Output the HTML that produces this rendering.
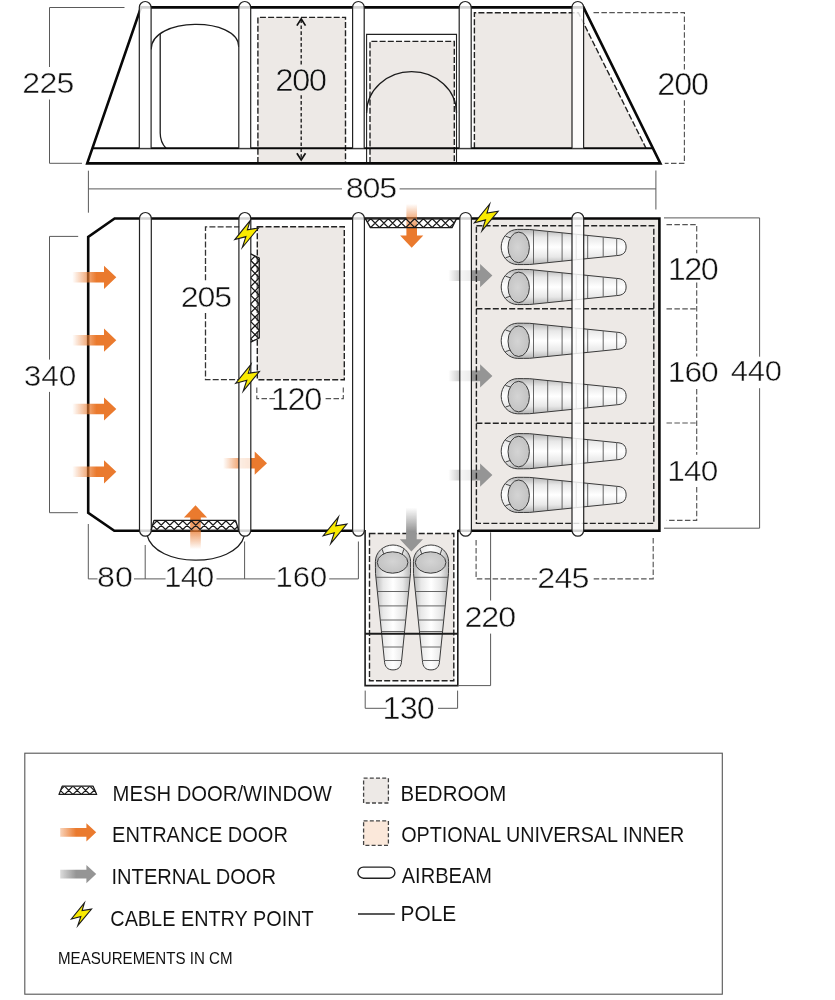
<!DOCTYPE html>
<html><head><meta charset="utf-8"><title>Tent floor plan</title>
<style>
html,body{margin:0;padding:0;background:#fff;}
body{width:835px;height:1000px;overflow:hidden;font-family:"Liberation Sans",sans-serif;}
svg{display:block;will-change:transform;}
</style></head><body>
<svg width="835" height="1000" viewBox="0 0 835 1000" font-family="Liberation Sans, sans-serif">

<defs>
 <linearGradient id="bagg" x1="0" y1="0" x2="0" y2="1">
  <stop offset="0" stop-color="#b4b4b4"/>
  <stop offset="0.22" stop-color="#e8e8e8"/>
  <stop offset="0.5" stop-color="#ffffff"/>
  <stop offset="0.78" stop-color="#e8e8e8"/>
  <stop offset="1" stop-color="#b4b4b4"/>
 </linearGradient>
 <radialGradient id="faceg" cx="0.45" cy="0.5" r="0.6">
  <stop offset="0" stop-color="#d4d4d4"/>
  <stop offset="1" stop-color="#c0c0c0"/>
 </radialGradient>
 <linearGradient id="og" gradientUnits="userSpaceOnUse" x1="-44" y1="0" x2="-20" y2="0">
  <stop offset="0" stop-color="#ea7a2e" stop-opacity="0"/>
  <stop offset="1" stop-color="#ea7a2e" stop-opacity="1"/>
 </linearGradient>
 <linearGradient id="gg" gradientUnits="userSpaceOnUse" x1="-44" y1="0" x2="-20" y2="0">
  <stop offset="0" stop-color="#959595" stop-opacity="0"/>
  <stop offset="1" stop-color="#959595" stop-opacity="1"/>
 </linearGradient>
 <pattern id="mesh" patternUnits="userSpaceOnUse" width="7" height="9">
  <path d="M0,0 L7,9 M7,0 L0,9" stroke="#222" stroke-width="0.9"/>
 </pattern>
</defs>

<rect x="257.9" y="17.4" width="87.6" height="145" fill="#ede9e6"/>
<path d="M257.9,163 L257.9,17.4 L345.5,17.4 L345.5,163" fill="none" stroke="#222" stroke-width="1.4" stroke-dasharray="6 2.2"/>
<path d="M366.6,163 L366.6,34.4 L456.5,34.4 L456.5,163" fill="#fff" stroke="#222" stroke-width="1.1"/>
<rect x="370" y="41.4" width="84.3" height="121.6" fill="#ede9e6"/>
<path d="M370,163 L370,41.4 L454.3,41.4 L454.3,163" fill="none" stroke="#222" stroke-width="1.4" stroke-dasharray="6 2.2"/>
<path d="M366.6,113 A44.95,41.3 0 0 1 456.5,113" fill="none" stroke="#1c1c1c" stroke-width="1.3"/>
<path d="M474.4,148.2 L474.4,12.8 L578.4,12.8 L646,148.2 Z" fill="#ede9e6" stroke="none"/>
<path d="M474.4,148.2 L474.4,12.8 L578.4,12.8 L646,148.2" fill="none" stroke="#222" stroke-width="1.4" stroke-dasharray="6 2.2"/>
<path d="M151.1,49.5 C151.1,16.5 238.8,16.5 238.8,47" fill="none" stroke="#1c1c1c" stroke-width="1.3"/>
<path d="M160.2,34 L160.2,133 Q160.2,142 166,148.3" fill="none" stroke="#1c1c1c" stroke-width="1.3"/>
<path d="M301.2,19.5 L301.2,64.6 M301.2,95.2 L301.2,159" fill="none" stroke="#222" stroke-width="1.4" stroke-dasharray="3.6 2.3"/>
<path d="M296.9,25.6 L301.2,18.8 L305.5,25.6 M296.9,153.2 L301.2,160 L305.5,153.2" fill="none" stroke="#111" stroke-width="1.7" stroke-linejoin="miter"/>
<path d="M87.2,163.4 L141,7.4 L583.5,7.4 L660.4,163.4 Z" fill="none" stroke="#080808" stroke-width="2.6" stroke-linejoin="miter"/>
<line x1="92.3" y1="148.3" x2="652.5" y2="148.3" stroke="#080808" stroke-width="2"/>
<path d="M139.3,148.3 L139.3,7.3999999999999915 A5.8999999999999915,5.8999999999999915 0 0 1 151.1,7.3999999999999915 L151.1,148.3" fill="#fff" fill-opacity="0.82" stroke="#222" stroke-width="1.2"/>
<path d="M238.8,148.3 L238.8,7.449999999999989 A5.949999999999989,5.949999999999989 0 0 1 250.7,7.449999999999989 L250.7,148.3" fill="#fff" fill-opacity="0.82" stroke="#222" stroke-width="1.2"/>
<path d="M352.6,148.3 L352.6,7.299999999999983 A5.799999999999983,5.799999999999983 0 0 1 364.2,7.299999999999983 L364.2,148.3" fill="#fff" fill-opacity="0.82" stroke="#222" stroke-width="1.2"/>
<path d="M459.2,148.3 L459.2,7.5 A6.0,6.0 0 0 1 471.2,7.5 L471.2,148.3" fill="#fff" fill-opacity="0.82" stroke="#222" stroke-width="1.2"/>
<path d="M572,148.3 L572,7.300000000000011 A5.800000000000011,5.800000000000011 0 0 1 583.6,7.300000000000011 L583.6,148.3" fill="#fff" fill-opacity="0.82" stroke="#222" stroke-width="1.2"/>
<path d="M124.5,7.5 L49.5,7.5 L49.5,67 M49.5,99.5 L49.5,163.3 L82,163.3" fill="none" stroke="#5a5a5a" stroke-width="1"/>
<path d="M593.5,12.6 L684.4,12.6 L684.4,70.5 M684.4,100.2 L684.4,163.4 L664.8,163.4" fill="none" stroke="#555" stroke-width="1.15" stroke-dasharray="5.5 2.4"/>
<path d="M88.4,170.7 L88.4,212.7 M88.4,188.9 L342,188.9 M399.6,188.9 L655.9,188.9 M655.9,170.5 L655.9,209.5" fill="none" stroke="#5a5a5a" stroke-width="1"/>
<text transform="translate(24.90,0) scale(1.06,1) translate(-24.90,0)" x="22.50" y="92.60" font-size="30.26" letter-spacing="-0.666" fill="#111" stroke="#fff" stroke-width="0.55" stroke-opacity="0.9">225</text>
<text transform="translate(277.10,0) scale(1.06,1) translate(-277.10,0)" x="275.30" y="90.80" font-size="31.14" letter-spacing="-1.473" fill="#111" stroke="#fff" stroke-width="0.55" stroke-opacity="0.9">200</text>
<text transform="translate(659.90,0) scale(1.06,1) translate(-659.90,0)" x="657.50" y="94.60" font-size="30.55" letter-spacing="-1.102" fill="#111" stroke="#fff" stroke-width="0.55" stroke-opacity="0.9">200</text>
<text transform="translate(347.70,0) scale(1.06,1) translate(-347.70,0)" x="345.90" y="198.50" font-size="30.41" letter-spacing="-1.134" fill="#111" stroke="#fff" stroke-width="0.55" stroke-opacity="0.9">805</text>
<rect x="471" y="219" width="188" height="311" fill="#ede9e6"/>
<path transform="translate(492.4,275.6) rotate(0)" d="M0,0 L-12.3,-11.6 L-12.3,-5.3 L-45,-5.3 L-45,5.3 L-12.3,5.3 L-12.3,11.6 Z" fill="url(#gg)"/>
<path transform="translate(492.4,375.9) rotate(0)" d="M0,0 L-12.3,-11.6 L-12.3,-5.3 L-45,-5.3 L-45,5.3 L-12.3,5.3 L-12.3,11.6 Z" fill="url(#gg)"/>
<path transform="translate(492.4,475.1) rotate(0)" d="M0,0 L-12.3,-11.6 L-12.3,-5.3 L-45,-5.3 L-45,5.3 L-12.3,5.3 L-12.3,11.6 Z" fill="url(#gg)"/>
<rect x="476.4" y="225.8" width="177.4" height="297.6" fill="none" stroke="#222" stroke-width="1.4" stroke-dasharray="6 2.2"/>
<path d="M476.4,308.8 L653.8,308.8 M476.4,423.2 L653.8,423.2" stroke="#222" stroke-width="1.4" stroke-dasharray="6 2.2"/>
<path d="M240,226.8 L205.5,226.8 L205.5,281.3 M205.5,313.1 L205.5,379.7 L240,379.7" fill="none" stroke="#333" stroke-width="1.3" stroke-dasharray="6 2.2"/>
<rect x="257.3" y="226.8" width="87" height="152.9" fill="#ede9e6" stroke="#222" stroke-width="1.4" stroke-dasharray="6 2.2"/>
<path d="M256.8,387.5 L256.8,398.6 L275.5,398.6 M325.6,398.6 L343.3,398.6 L343.3,387.5" fill="none" stroke="#555" stroke-width="1.15" stroke-dasharray="5.5 2.4"/>
<path d="M365.1,530 L365.1,685.6 L457.8,685.6 L457.8,530" fill="#fff" stroke="#1c1c1c" stroke-width="1.6"/>
<rect x="369.5" y="533.5" width="84.3" height="147.3" fill="#ede9e6" stroke="#222" stroke-width="1.4" stroke-dasharray="6 2.2"/>
<g transform="translate(501.7,247.0) rotate(0)"><path d="M16,-17.6 Q22,-17.6 28,-17.5 L115,-8.6 C121.5,-8.3 124.4,-5.5 124.4,0 C124.4,5.5 121.5,8.3 115,8.6 L28,17.5 Q22,17.6 16,17.6 A16.5,17.6 0 0 1 16,-17.6 Z" fill="url(#bagg)" stroke="#3a3a3a" stroke-width="1"/><line x1="31.8" y1="-16.91" x2="31.8" y2="16.91" stroke="#555" stroke-width="0.9"/><line x1="46" y1="-15.46" x2="46" y2="15.46" stroke="#555" stroke-width="0.9"/><line x1="60.4" y1="-13.99" x2="60.4" y2="13.99" stroke="#555" stroke-width="0.9"/><line x1="74.5" y1="-12.54" x2="74.5" y2="12.54" stroke="#555" stroke-width="0.9"/><line x1="86" y1="-11.37" x2="86" y2="11.37" stroke="#555" stroke-width="0.9"/><line x1="101.5" y1="-9.78" x2="101.5" y2="9.78" stroke="#555" stroke-width="0.9"/><line x1="115" y1="-8.40" x2="115" y2="8.40" stroke="#555" stroke-width="0.9"/><path d="M3.8,-10.8 L8.4,-9.3 M3.8,10.8 L8.4,9.3" stroke="#333" stroke-width="0.9"/><ellipse cx="17" cy="0.4" rx="10.7" ry="15.3" fill="url(#faceg)" stroke="#3a3a3a" stroke-width="1"/></g>
<g transform="translate(501.7,287.0) rotate(0)"><path d="M16,-17.6 Q22,-17.6 28,-17.5 L115,-8.6 C121.5,-8.3 124.4,-5.5 124.4,0 C124.4,5.5 121.5,8.3 115,8.6 L28,17.5 Q22,17.6 16,17.6 A16.5,17.6 0 0 1 16,-17.6 Z" fill="url(#bagg)" stroke="#3a3a3a" stroke-width="1"/><line x1="31.8" y1="-16.91" x2="31.8" y2="16.91" stroke="#555" stroke-width="0.9"/><line x1="46" y1="-15.46" x2="46" y2="15.46" stroke="#555" stroke-width="0.9"/><line x1="60.4" y1="-13.99" x2="60.4" y2="13.99" stroke="#555" stroke-width="0.9"/><line x1="74.5" y1="-12.54" x2="74.5" y2="12.54" stroke="#555" stroke-width="0.9"/><line x1="86" y1="-11.37" x2="86" y2="11.37" stroke="#555" stroke-width="0.9"/><line x1="101.5" y1="-9.78" x2="101.5" y2="9.78" stroke="#555" stroke-width="0.9"/><line x1="115" y1="-8.40" x2="115" y2="8.40" stroke="#555" stroke-width="0.9"/><path d="M3.8,-10.8 L8.4,-9.3 M3.8,10.8 L8.4,9.3" stroke="#333" stroke-width="0.9"/><ellipse cx="17" cy="0.4" rx="10.7" ry="15.3" fill="url(#faceg)" stroke="#3a3a3a" stroke-width="1"/></g>
<g transform="translate(501.7,340.8) rotate(0)"><path d="M16,-17.6 Q22,-17.6 28,-17.5 L115,-8.6 C121.5,-8.3 124.4,-5.5 124.4,0 C124.4,5.5 121.5,8.3 115,8.6 L28,17.5 Q22,17.6 16,17.6 A16.5,17.6 0 0 1 16,-17.6 Z" fill="url(#bagg)" stroke="#3a3a3a" stroke-width="1"/><line x1="31.8" y1="-16.91" x2="31.8" y2="16.91" stroke="#555" stroke-width="0.9"/><line x1="46" y1="-15.46" x2="46" y2="15.46" stroke="#555" stroke-width="0.9"/><line x1="60.4" y1="-13.99" x2="60.4" y2="13.99" stroke="#555" stroke-width="0.9"/><line x1="74.5" y1="-12.54" x2="74.5" y2="12.54" stroke="#555" stroke-width="0.9"/><line x1="86" y1="-11.37" x2="86" y2="11.37" stroke="#555" stroke-width="0.9"/><line x1="101.5" y1="-9.78" x2="101.5" y2="9.78" stroke="#555" stroke-width="0.9"/><line x1="115" y1="-8.40" x2="115" y2="8.40" stroke="#555" stroke-width="0.9"/><path d="M3.8,-10.8 L8.4,-9.3 M3.8,10.8 L8.4,9.3" stroke="#333" stroke-width="0.9"/><ellipse cx="17" cy="0.4" rx="10.7" ry="15.3" fill="url(#faceg)" stroke="#3a3a3a" stroke-width="1"/></g>
<g transform="translate(501.7,396.2) rotate(0)"><path d="M16,-17.6 Q22,-17.6 28,-17.5 L115,-8.6 C121.5,-8.3 124.4,-5.5 124.4,0 C124.4,5.5 121.5,8.3 115,8.6 L28,17.5 Q22,17.6 16,17.6 A16.5,17.6 0 0 1 16,-17.6 Z" fill="url(#bagg)" stroke="#3a3a3a" stroke-width="1"/><line x1="31.8" y1="-16.91" x2="31.8" y2="16.91" stroke="#555" stroke-width="0.9"/><line x1="46" y1="-15.46" x2="46" y2="15.46" stroke="#555" stroke-width="0.9"/><line x1="60.4" y1="-13.99" x2="60.4" y2="13.99" stroke="#555" stroke-width="0.9"/><line x1="74.5" y1="-12.54" x2="74.5" y2="12.54" stroke="#555" stroke-width="0.9"/><line x1="86" y1="-11.37" x2="86" y2="11.37" stroke="#555" stroke-width="0.9"/><line x1="101.5" y1="-9.78" x2="101.5" y2="9.78" stroke="#555" stroke-width="0.9"/><line x1="115" y1="-8.40" x2="115" y2="8.40" stroke="#555" stroke-width="0.9"/><path d="M3.8,-10.8 L8.4,-9.3 M3.8,10.8 L8.4,9.3" stroke="#333" stroke-width="0.9"/><ellipse cx="17" cy="0.4" rx="10.7" ry="15.3" fill="url(#faceg)" stroke="#3a3a3a" stroke-width="1"/></g>
<g transform="translate(501.7,451.2) rotate(0)"><path d="M16,-17.6 Q22,-17.6 28,-17.5 L115,-8.6 C121.5,-8.3 124.4,-5.5 124.4,0 C124.4,5.5 121.5,8.3 115,8.6 L28,17.5 Q22,17.6 16,17.6 A16.5,17.6 0 0 1 16,-17.6 Z" fill="url(#bagg)" stroke="#3a3a3a" stroke-width="1"/><line x1="31.8" y1="-16.91" x2="31.8" y2="16.91" stroke="#555" stroke-width="0.9"/><line x1="46" y1="-15.46" x2="46" y2="15.46" stroke="#555" stroke-width="0.9"/><line x1="60.4" y1="-13.99" x2="60.4" y2="13.99" stroke="#555" stroke-width="0.9"/><line x1="74.5" y1="-12.54" x2="74.5" y2="12.54" stroke="#555" stroke-width="0.9"/><line x1="86" y1="-11.37" x2="86" y2="11.37" stroke="#555" stroke-width="0.9"/><line x1="101.5" y1="-9.78" x2="101.5" y2="9.78" stroke="#555" stroke-width="0.9"/><line x1="115" y1="-8.40" x2="115" y2="8.40" stroke="#555" stroke-width="0.9"/><path d="M3.8,-10.8 L8.4,-9.3 M3.8,10.8 L8.4,9.3" stroke="#333" stroke-width="0.9"/><ellipse cx="17" cy="0.4" rx="10.7" ry="15.3" fill="url(#faceg)" stroke="#3a3a3a" stroke-width="1"/></g>
<g transform="translate(501.7,494.9) rotate(0)"><path d="M16,-17.6 Q22,-17.6 28,-17.5 L115,-8.6 C121.5,-8.3 124.4,-5.5 124.4,0 C124.4,5.5 121.5,8.3 115,8.6 L28,17.5 Q22,17.6 16,17.6 A16.5,17.6 0 0 1 16,-17.6 Z" fill="url(#bagg)" stroke="#3a3a3a" stroke-width="1"/><line x1="31.8" y1="-16.91" x2="31.8" y2="16.91" stroke="#555" stroke-width="0.9"/><line x1="46" y1="-15.46" x2="46" y2="15.46" stroke="#555" stroke-width="0.9"/><line x1="60.4" y1="-13.99" x2="60.4" y2="13.99" stroke="#555" stroke-width="0.9"/><line x1="74.5" y1="-12.54" x2="74.5" y2="12.54" stroke="#555" stroke-width="0.9"/><line x1="86" y1="-11.37" x2="86" y2="11.37" stroke="#555" stroke-width="0.9"/><line x1="101.5" y1="-9.78" x2="101.5" y2="9.78" stroke="#555" stroke-width="0.9"/><line x1="115" y1="-8.40" x2="115" y2="8.40" stroke="#555" stroke-width="0.9"/><path d="M3.8,-10.8 L8.4,-9.3 M3.8,10.8 L8.4,9.3" stroke="#333" stroke-width="0.9"/><ellipse cx="17" cy="0.4" rx="10.7" ry="15.3" fill="url(#faceg)" stroke="#3a3a3a" stroke-width="1"/></g>
<g transform="translate(393.0,545.5) rotate(90)"><path d="M16,-17.6 Q22,-17.6 28,-17.5 L115,-8.6 C121.5,-8.3 124.4,-5.5 124.4,0 C124.4,5.5 121.5,8.3 115,8.6 L28,17.5 Q22,17.6 16,17.6 A16.5,17.6 0 0 1 16,-17.6 Z" fill="url(#bagg)" stroke="#3a3a3a" stroke-width="1"/><line x1="31.8" y1="-16.91" x2="31.8" y2="16.91" stroke="#555" stroke-width="0.9"/><line x1="46" y1="-15.46" x2="46" y2="15.46" stroke="#555" stroke-width="0.9"/><line x1="60.4" y1="-13.99" x2="60.4" y2="13.99" stroke="#555" stroke-width="0.9"/><line x1="74.5" y1="-12.54" x2="74.5" y2="12.54" stroke="#555" stroke-width="0.9"/><line x1="86" y1="-11.37" x2="86" y2="11.37" stroke="#555" stroke-width="0.9"/><line x1="101.5" y1="-9.78" x2="101.5" y2="9.78" stroke="#555" stroke-width="0.9"/><line x1="115" y1="-8.40" x2="115" y2="8.40" stroke="#555" stroke-width="0.9"/><path d="M3.8,-10.8 L8.4,-9.3 M3.8,10.8 L8.4,9.3" stroke="#333" stroke-width="0.9"/><ellipse cx="17" cy="0.4" rx="10.7" ry="15.3" fill="url(#faceg)" stroke="#3a3a3a" stroke-width="1"/></g>
<g transform="translate(431.0,545.5) rotate(90)"><path d="M16,-17.6 Q22,-17.6 28,-17.5 L115,-8.6 C121.5,-8.3 124.4,-5.5 124.4,0 C124.4,5.5 121.5,8.3 115,8.6 L28,17.5 Q22,17.6 16,17.6 A16.5,17.6 0 0 1 16,-17.6 Z" fill="url(#bagg)" stroke="#3a3a3a" stroke-width="1"/><line x1="31.8" y1="-16.91" x2="31.8" y2="16.91" stroke="#555" stroke-width="0.9"/><line x1="46" y1="-15.46" x2="46" y2="15.46" stroke="#555" stroke-width="0.9"/><line x1="60.4" y1="-13.99" x2="60.4" y2="13.99" stroke="#555" stroke-width="0.9"/><line x1="74.5" y1="-12.54" x2="74.5" y2="12.54" stroke="#555" stroke-width="0.9"/><line x1="86" y1="-11.37" x2="86" y2="11.37" stroke="#555" stroke-width="0.9"/><line x1="101.5" y1="-9.78" x2="101.5" y2="9.78" stroke="#555" stroke-width="0.9"/><line x1="115" y1="-8.40" x2="115" y2="8.40" stroke="#555" stroke-width="0.9"/><path d="M3.8,-10.8 L8.4,-9.3 M3.8,10.8 L8.4,9.3" stroke="#333" stroke-width="0.9"/><ellipse cx="17" cy="0.4" rx="10.7" ry="15.3" fill="url(#faceg)" stroke="#3a3a3a" stroke-width="1"/></g>
<line x1="365.1" y1="633.7" x2="457.8" y2="633.7" stroke="#1c1c1c" stroke-width="1.9"/>
<path d="M147,535 C155,568 235,569 244.5,535.5" fill="none" stroke="#1c1c1c" stroke-width="1.2"/>
<path d="M365,530.7 L114.3,530.7 L88.2,512.7 L88.2,237 L114.6,218.5 L659.4,218.5 L659.4,530.7 L457.8,530.7" fill="none" stroke="#080808" stroke-width="2.6" stroke-linejoin="miter"/>
<path transform="translate(267,463.2) rotate(0)" d="M0,0 L-12.3,-11.6 L-12.3,-5.3 L-45,-5.3 L-45,5.3 L-12.3,5.3 L-12.3,11.6 Z" fill="url(#og)"/>
<path d="M139.5,218.4 A5.900000000000006,5.900000000000006 0 0 1 151.3,218.4 L151.3,530.3000000000001 A5.900000000000006,5.900000000000006 0 0 1 139.5,530.3000000000001 Z" fill="#fff" fill-opacity="0.82" stroke="#222" stroke-width="1.2"/>
<path d="M238.9,218.45 A5.950000000000003,5.950000000000003 0 0 1 250.8,218.45 L250.8,530.25 A5.950000000000003,5.950000000000003 0 0 1 238.9,530.25 Z" fill="#fff" fill-opacity="0.82" stroke="#222" stroke-width="1.2"/>
<path d="M352.6,218.39999999999998 A5.899999999999977,5.899999999999977 0 0 1 364.4,218.39999999999998 L364.4,530.3000000000001 A5.899999999999977,5.899999999999977 0 0 1 352.6,530.3000000000001 Z" fill="#fff" fill-opacity="0.82" stroke="#222" stroke-width="1.2"/>
<path d="M459.8,218.29999999999998 A5.799999999999983,5.799999999999983 0 0 1 471.4,218.29999999999998 L471.4,530.4000000000001 A5.799999999999983,5.799999999999983 0 0 1 459.8,530.4000000000001 Z" fill="#fff" fill-opacity="0.82" stroke="#222" stroke-width="1.2"/>
<path d="M572,218.35000000000002 A5.850000000000023,5.850000000000023 0 0 1 583.7,218.35000000000002 L583.7,530.35 A5.850000000000023,5.850000000000023 0 0 1 572,530.35 Z" fill="#fff" fill-opacity="0.82" stroke="#222" stroke-width="1.2"/>
<path transform="translate(116.3,277.3) rotate(0)" d="M0,0 L-12.3,-11.6 L-12.3,-5.3 L-45,-5.3 L-45,5.3 L-12.3,5.3 L-12.3,11.6 Z" fill="url(#og)"/>
<path transform="translate(116.3,340.2) rotate(0)" d="M0,0 L-12.3,-11.6 L-12.3,-5.3 L-45,-5.3 L-45,5.3 L-12.3,5.3 L-12.3,11.6 Z" fill="url(#og)"/>
<path transform="translate(116.3,409.0) rotate(0)" d="M0,0 L-12.3,-11.6 L-12.3,-5.3 L-45,-5.3 L-45,5.3 L-12.3,5.3 L-12.3,11.6 Z" fill="url(#og)"/>
<path transform="translate(116.3,471.8) rotate(0)" d="M0,0 L-12.3,-11.6 L-12.3,-5.3 L-45,-5.3 L-45,5.3 L-12.3,5.3 L-12.3,11.6 Z" fill="url(#og)"/>
<path transform="translate(411.7,247.8) rotate(90)" d="M0,0 L-12.3,-11.6 L-12.3,-5.3 L-45,-5.3 L-45,5.3 L-12.3,5.3 L-12.3,11.6 Z" fill="url(#og)"/>
<path transform="translate(195.5,505.3) rotate(-90)" d="M0,0 L-12.3,-11.6 L-12.3,-5.3 L-45,-5.3 L-45,5.3 L-12.3,5.3 L-12.3,11.6 Z" fill="url(#og)"/>
<path transform="translate(411.4,551.5) rotate(90)" d="M0,0 L-12.3,-11.6 L-12.3,-5.3 L-45,-5.3 L-45,5.3 L-12.3,5.3 L-12.3,11.6 Z" fill="url(#gg)"/>
<clipPath id="mc1"><polygon points="365.4,218.6 456.5,218.6 452,227.6 370.4,227.6"/></clipPath><polygon points="365.4,218.6 456.5,218.6 452,227.6 370.4,227.6" fill="#fff" fill-opacity="0.25"/><path clip-path="url(#mc1)" d="M354.32000000000005,211.1 L378.32000000000005,235.1 M378.32000000000005,211.1 L354.32000000000005,235.1 M363.1,211.1 L387.1,235.1 M387.1,211.1 L363.1,235.1 M371.88,211.1 L395.88,235.1 M395.88,211.1 L371.88,235.1 M380.66,211.1 L404.66,235.1 M404.66,211.1 L380.66,235.1 M389.44,211.1 L413.44,235.1 M413.44,211.1 L389.44,235.1 M398.22,211.1 L422.22,235.1 M422.22,211.1 L398.22,235.1 M407.0,211.1 L431.0,235.1 M431.0,211.1 L407.0,235.1 M415.78000000000003,211.1 L439.78000000000003,235.1 M439.78000000000003,211.1 L415.78000000000003,235.1 M424.56,211.1 L448.56,235.1 M448.56,211.1 L424.56,235.1 M433.34000000000003,211.1 L457.34000000000003,235.1 M457.34000000000003,211.1 L433.34000000000003,235.1 M442.12,211.1 L466.12,235.1 M466.12,211.1 L442.12,235.1" stroke="#1a1a1a" stroke-width="1.25" fill="none"/><path d="M365.4,218.6 L370.4,227.6 L452,227.6 L456.5,218.6" stroke="#1a1a1a" stroke-width="1.35" fill="none" stroke-linejoin="round"/>
<clipPath id="mc2"><polygon points="250.7,253.8 259.25,258 259.25,338 250.7,342.2"/></clipPath><polygon points="250.7,253.8 259.25,258 259.25,338 250.7,342.2" fill="#fff" fill-opacity="0.25"/><path clip-path="url(#mc2)" d="M243.0,235.31 L267.0,259.31 M267.0,235.31 L243.0,259.31 M243.0,244.02999999999997 L267.0,268.03 M267.0,244.02999999999997 L243.0,268.03 M243.0,252.75 L267.0,276.75 M267.0,252.75 L243.0,276.75 M243.0,261.47 L267.0,285.47 M267.0,261.47 L243.0,285.47 M243.0,270.19 L267.0,294.19 M267.0,270.19 L243.0,294.19 M243.0,278.91 L267.0,302.91 M267.0,278.91 L243.0,302.91 M243.0,287.63 L267.0,311.63 M267.0,287.63 L243.0,311.63 M243.0,296.35 L267.0,320.35 M267.0,296.35 L243.0,320.35 M243.0,305.07 L267.0,329.07 M267.0,305.07 L243.0,329.07 M243.0,313.79 L267.0,337.79 M267.0,313.79 L243.0,337.79 M243.0,322.51 L267.0,346.51 M267.0,322.51 L243.0,346.51 M243.0,331.23 L267.0,355.23 M267.0,331.23 L243.0,355.23 M243.0,339.95 L267.0,363.95 M267.0,339.95 L243.0,363.95" stroke="#1a1a1a" stroke-width="1.25" fill="none"/><path d="M250.7,253.8 L259.25,258 L259.25,338 L250.7,342.2" stroke="#1a1a1a" stroke-width="1.35" fill="none" stroke-linejoin="round"/>
<clipPath id="mc3"><polygon points="151.1,530.2 154,520.4 235.6,520.4 238.6,530.2"/></clipPath><polygon points="151.1,530.2 154,520.4 235.6,520.4 238.6,530.2" fill="#fff" fill-opacity="0.25"/><path clip-path="url(#mc3)" d="M131.92,513.2 L155.92,537.2 M155.92,513.2 L131.92,537.2 M140.56,513.2 L164.56,537.2 M164.56,513.2 L140.56,537.2 M149.2,513.2 L173.2,537.2 M173.2,513.2 L149.2,537.2 M157.83999999999997,513.2 L181.83999999999997,537.2 M181.83999999999997,513.2 L157.83999999999997,537.2 M166.48,513.2 L190.48,537.2 M190.48,513.2 L166.48,537.2 M175.12,513.2 L199.12,537.2 M199.12,513.2 L175.12,537.2 M183.76,513.2 L207.76,537.2 M207.76,513.2 L183.76,537.2 M192.39999999999998,513.2 L216.39999999999998,537.2 M216.39999999999998,513.2 L192.39999999999998,537.2 M201.04,513.2 L225.04,537.2 M225.04,513.2 L201.04,537.2 M209.68,513.2 L233.68,537.2 M233.68,513.2 L209.68,537.2 M218.32,513.2 L242.32,537.2 M242.32,513.2 L218.32,537.2 M226.95999999999998,513.2 L250.95999999999998,537.2 M250.95999999999998,513.2 L226.95999999999998,537.2 M235.6,513.2 L259.6,537.2 M259.6,513.2 L235.6,537.2" stroke="#1a1a1a" stroke-width="1.25" fill="none"/><path d="M151.1,530.2 L154,520.4 L235.6,520.4 L238.6,530.2" stroke="#1a1a1a" stroke-width="1.35" fill="none" stroke-linejoin="round"/>
<path transform="translate(246.7,234.2) scale(1.0)" d="M3.4,-13.5 L-11.9,5.4 L-0.8,2.4 L-4.4,13.3 L11.8,-6.2 L0.7,-4.4 Z" fill="#f9ea00" stroke="#1a1a1a" stroke-width="1.10" stroke-linejoin="miter" stroke-miterlimit="10"/>
<path transform="translate(247.6,377.8) scale(1.0)" d="M3.4,-13.5 L-11.9,5.4 L-0.8,2.4 L-4.4,13.3 L11.8,-6.2 L0.7,-4.4 Z" fill="#f9ea00" stroke="#1a1a1a" stroke-width="1.10" stroke-linejoin="miter" stroke-miterlimit="10"/>
<path transform="translate(486.3,217.5) scale(1.0)" d="M3.4,-13.5 L-11.9,5.4 L-0.8,2.4 L-4.4,13.3 L11.8,-6.2 L0.7,-4.4 Z" fill="#f9ea00" stroke="#1a1a1a" stroke-width="1.10" stroke-linejoin="miter" stroke-miterlimit="10"/>
<path transform="translate(335.1,530.3) scale(1.0)" d="M3.4,-13.5 L-11.9,5.4 L-0.8,2.4 L-4.4,13.3 L11.8,-6.2 L0.7,-4.4 Z" fill="#f9ea00" stroke="#1a1a1a" stroke-width="1.10" stroke-linejoin="miter" stroke-miterlimit="10"/>
<path d="M78.2,236.4 L49.5,236.4 L49.5,359.6 M49.5,391.9 L49.5,512.7 L77.9,512.7" fill="none" stroke="#5a5a5a" stroke-width="1"/>
<path d="M664,217.9 L759.6,217.9 L759.6,356.7 M759.6,388.2 L759.6,528.2 L664,528.2" fill="none" stroke="#5a5a5a" stroke-width="1"/>
<path d="M666.5,224.6 L696.7,224.6 L696.7,253.3 M696.7,282.4 L696.7,356.4 M696.7,388.9 L696.7,454.8 M696.7,487.1 L696.7,520.3 L666.5,520.3 M666.5,308.8 L696.7,308.8 M666.5,423 L696.7,423" fill="none" stroke="#555" stroke-width="1.15" stroke-dasharray="5.5 2.4"/>
<path d="M88.3,524 L88.3,578.9 L97.5,578.9 M134,578.9 L165.5,578.9 M145.2,545 L145.2,578.9 M216.5,578.9 L275.3,578.9 M244.6,541.5 L244.6,578.9 M329.2,578.9 L358.4,578.9 L358.4,541.5" fill="none" stroke="#5a5a5a" stroke-width="1"/>
<path d="M476.1,540 L476.1,578.8 L537,578.8 M593.7,578.8 L653.2,578.8 L653.2,537" fill="none" stroke="#555" stroke-width="1.15" stroke-dasharray="5.5 2.4"/>
<path d="M490.6,532.3 L490.6,600.5 M490.6,633.6 L490.6,685.6 L457.8,685.6" fill="none" stroke="#5a5a5a" stroke-width="1"/>
<path d="M365.2,690.6 L365.2,708.3 L386.5,708.3 M438,708.3 L457.6,708.3 L457.6,690.6" fill="none" stroke="#5a5a5a" stroke-width="1"/>
<text transform="translate(182.70,0) scale(1.06,1) translate(-182.70,0)" x="180.90" y="306.70" font-size="30.26" letter-spacing="-1.016" fill="#111" stroke="#fff" stroke-width="0.55" stroke-opacity="0.9">205</text>
<text transform="translate(25.70,0) scale(1.06,1) translate(-25.70,0)" x="23.90" y="385.70" font-size="29.82" letter-spacing="-0.063" fill="#111" stroke="#fff" stroke-width="0.55" stroke-opacity="0.9">340</text>
<text transform="translate(273.90,0) scale(1.06,1) translate(-273.90,0)" x="270.90" y="409.80" font-size="30.70" letter-spacing="-1.269" fill="#111" stroke="#fff" stroke-width="0.55" stroke-opacity="0.9">120</text>
<text transform="translate(670.40,0) scale(1.06,1) translate(-670.40,0)" x="668.00" y="280.50" font-size="30.55" letter-spacing="-1.502" fill="#111" stroke="#fff" stroke-width="0.55" stroke-opacity="0.9">120</text>
<text transform="translate(670.40,0) scale(1.06,1) translate(-670.40,0)" x="668.00" y="382.40" font-size="29.97" letter-spacing="-1.031" fill="#111" stroke="#fff" stroke-width="0.55" stroke-opacity="0.9">160</text>
<text transform="translate(670.50,0) scale(1.06,1) translate(-670.50,0)" x="667.50" y="481.50" font-size="29.82" letter-spacing="-0.763" fill="#111" stroke="#fff" stroke-width="0.55" stroke-opacity="0.9">140</text>
<text transform="translate(732.10,0) scale(1.06,1) translate(-732.10,0)" x="730.90" y="381.35" font-size="29.23" letter-spacing="-0.192" fill="#111" stroke="#fff" stroke-width="0.55" stroke-opacity="0.9">440</text>
<text transform="translate(99.00,0) scale(1.06,1) translate(-99.00,0)" x="97.20" y="587.50" font-size="30.41" letter-spacing="0.088" fill="#111" stroke="#fff" stroke-width="0.55" stroke-opacity="0.9">80</text>
<text transform="translate(167.50,0) scale(1.06,1) translate(-167.50,0)" x="164.50" y="587.45" font-size="29.23" letter-spacing="-0.842" fill="#111" stroke="#fff" stroke-width="0.55" stroke-opacity="0.9">140</text>
<text transform="translate(278.10,0) scale(1.06,1) translate(-278.10,0)" x="275.70" y="587.45" font-size="29.23" letter-spacing="0.008" fill="#111" stroke="#fff" stroke-width="0.55" stroke-opacity="0.9">160</text>
<text transform="translate(539.80,0) scale(1.06,1) translate(-539.80,0)" x="537.40" y="587.70" font-size="30.41" letter-spacing="-0.734" fill="#111" stroke="#fff" stroke-width="0.55" stroke-opacity="0.9">245</text>
<text transform="translate(466.30,0) scale(1.06,1) translate(-466.30,0)" x="464.50" y="626.80" font-size="30.41" letter-spacing="-0.934" fill="#111" stroke="#fff" stroke-width="0.55" stroke-opacity="0.9">220</text>
<text transform="translate(385.80,0) scale(1.06,1) translate(-385.80,0)" x="382.80" y="718.90" font-size="30.55" letter-spacing="-0.852" fill="#111" stroke="#fff" stroke-width="0.55" stroke-opacity="0.9">130</text>
<rect x="24.8" y="753.2" width="697.5" height="241" fill="none" stroke="#555" stroke-width="1.1"/>
<clipPath id="mc4"><polygon points="62.2,786.2 93.1,786.2 96.7,794.4 59,794.4"/></clipPath><polygon points="62.2,786.2 93.1,786.2 96.7,794.4 59,794.4" fill="#fff" fill-opacity="0.25"/><path clip-path="url(#mc4)" d="M39.800000000000004,778.3 L63.800000000000004,802.3 M63.800000000000004,778.3 L39.800000000000004,802.3 M48.25,778.3 L72.25,802.3 M72.25,778.3 L48.25,802.3 M56.7,778.3 L80.7,802.3 M80.7,778.3 L56.7,802.3 M65.15,778.3 L89.15,802.3 M89.15,778.3 L65.15,802.3 M73.6,778.3 L97.6,802.3 M97.6,778.3 L73.6,802.3 M82.05,778.3 L106.05,802.3 M106.05,778.3 L82.05,802.3 M90.5,778.3 L114.5,802.3 M114.5,778.3 L90.5,802.3 M98.95,778.3 L122.95,802.3 M122.95,778.3 L98.95,802.3" stroke="#1a1a1a" stroke-width="1.15" fill="none"/><path d="M62.2,786.2 L93.1,786.2 L96.7,794.4 L59,794.4 Z" stroke="#1a1a1a" stroke-width="1.25" fill="none" stroke-linejoin="round"/>
<path transform="translate(96.2,832.3) rotate(0)" d="M0,0 L-9.8,-9.1 L-9.8,-4.4 L-36,-4.4 L-36,4.4 L-9.8,4.4 L-9.8,9.1 Z" fill="url(#og)"/>
<path transform="translate(96.2,874.1) rotate(0)" d="M0,0 L-9.8,-9.1 L-9.8,-4.4 L-36,-4.4 L-36,4.4 L-9.8,4.4 L-9.8,9.1 Z" fill="url(#gg)"/>
<path transform="translate(81.5,914.4) scale(0.85)" d="M3.4,-13.5 L-11.9,5.4 L-0.8,2.4 L-4.4,13.3 L11.8,-6.2 L0.7,-4.4 Z" fill="#f9ea00" stroke="#1a1a1a" stroke-width="1.29" stroke-linejoin="miter" stroke-miterlimit="10"/>
<text transform="translate(112.62,801.20) scale(0.8937,1)" x="0" y="0" font-size="22.67" fill="#111" stroke="#fff" stroke-width="0.05" stroke-opacity="0.9">MESH DOOR/WINDOW</text>
<text transform="translate(112.12,842.40) scale(0.9077,1)" x="0" y="0" font-size="22.07" fill="#111" stroke="#fff" stroke-width="0.05" stroke-opacity="0.9">ENTRANCE DOOR</text>
<text transform="translate(111.52,883.70) scale(0.9236,1)" x="0" y="0" font-size="21.77" fill="#111" stroke="#fff" stroke-width="0.05" stroke-opacity="0.9">INTERNAL DOOR</text>
<text transform="translate(110.30,925.50) scale(0.8640,1)" x="0" y="0" font-size="22.98" fill="#111" stroke="#fff" stroke-width="0.05" stroke-opacity="0.9">CABLE ENTRY POINT</text>
<text transform="translate(58.04,963.70) scale(0.8770,1)" x="0" y="0" font-size="17.23" fill="#111" stroke="#fff" stroke-width="0" stroke-opacity="0.9">MEASUREMENTS IN CM</text>
<rect x="363.6" y="778.2" width="24.8" height="24.8" fill="#ede9e6" stroke="#444" stroke-width="1.3" stroke-dasharray="4 2.2"/>
<rect x="363.6" y="820.9" width="24.8" height="24.4" fill="#fbe8da" stroke="#444" stroke-width="1.3" stroke-dasharray="4 2.2"/>
<rect x="357.9" y="867.1" width="37" height="11.1" rx="5.55" fill="#fff" stroke="#222" stroke-width="1.4"/>
<line x1="358" y1="914" x2="394.8" y2="914" stroke="#222" stroke-width="1.3"/>
<text transform="translate(400.54,800.70) scale(0.9407,1)" x="0" y="0" font-size="21.77" fill="#111" stroke="#fff" stroke-width="0.05" stroke-opacity="0.9">BEDROOM</text>
<text transform="translate(401.14,842.45) scale(0.8789,1)" x="0" y="0" font-size="22.52" fill="#111" stroke="#fff" stroke-width="0.05" stroke-opacity="0.9">OPTIONAL UNIVERSAL INNER</text>
<text transform="translate(401.74,882.55) scale(0.8906,1)" x="0" y="0" font-size="22.52" fill="#111" stroke="#fff" stroke-width="0.05" stroke-opacity="0.9">AIRBEAM</text>
<text transform="translate(400.54,921.35) scale(0.9504,1)" x="0" y="0" font-size="21.92" fill="#111" stroke="#fff" stroke-width="0.05" stroke-opacity="0.9">POLE</text>
</svg>
</body></html>
